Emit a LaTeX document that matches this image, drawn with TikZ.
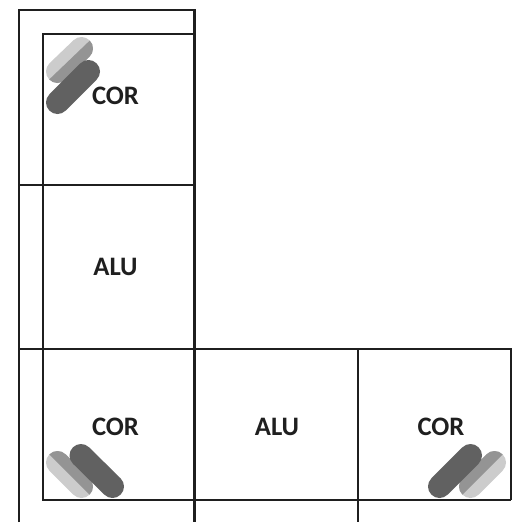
\documentclass[tikz,border=0pt]{standalone}
\usepackage{fontspec}
\setmainfont{Carlito}
\usetikzlibrary{calc}

% Pastilla de dos tonos: extremos #1 y #2, lado oscuro hacia #3
\newcommand{\splitpill}[3]{
	\coordinate (pill_a) at (#1);
	\coordinate (pill_b) at (#2);
	\draw [pill_light] (pill_a) -- (pill_b);
	\begin{scope}
		\clip ($(pill_a)!-1!(pill_b)$) -- ($(pill_a)!2!(pill_b)$) -- ++(#3) -- ($($(pill_a)!-1!(pill_b)$)+(#3)$) -- cycle;
		\draw [pill_mid] (pill_a) -- (pill_b);
	\end{scope}
}

\begin{document}
\begin{tikzpicture}[
		x=0.75pt, y=-0.75pt,
		% Estilos de la cuadricula y de las pastillas
		grid_line/.style = {draw=black!88, line width=1.85pt},
		cell_label/.style = {font=\fontsize{20}{23}\selectfont\bfseries, text=black!88, inner sep=0pt},
		pill_dark/.style = {draw=black!62, line width=17.25pt, line cap=round},
		pill_light/.style = {draw=black!20, line width=17.25pt, line cap=round},
		pill_mid/.style = {draw=black!42, line width=17.25pt, line cap=round}
		]
		
		\useasboundingbox (0,0) rectangle (525,522);
		
		% --- CUADRICULA ---
		\draw [grid_line] (19,522) -- (19,10) -- (194.5,10) -- (194.5,522);
		\draw [grid_line] (194.5,34) -- (43,34) -- (43,500) -- (511,500);
		\draw [grid_line] (18,185) -- (196,185);
		\draw [grid_line] (18,349) -- (511,349) -- (511,500);
		\draw [grid_line] (358,349) -- (358,522);
		
		% --- PASTILLAS ---
		% Arriba a la izquierda
		\splitpill{57.5,71.5}{81.5,48.5}{20,20}
		\draw [pill_dark] (57.5,102.5) -- (88.5,71.5);
		
		% Abajo a la izquierda
		\splitpill{57.5,462.5}{81.5,486.5}{20,-20}
		\draw [pill_dark] (81,455.5) -- (112.5,486.5);
		
		% Abajo a la derecha
		\splitpill{470.5,486.5}{494.5,462.5}{-20,-20}
		\draw [pill_dark] (439.5,486.5) -- (470.5,455.5);
		
		% --- ETIQUETAS ---
		\node [cell_label] (cor_top) at (115.5,96) {COR};
		\node [cell_label] (alu_left) at (115.5,267) {ALU};
		\node [cell_label] (cor_left) at (115.5,427) {COR};
		\node [cell_label] (alu_mid) at (277,427) {ALU};
		\node [cell_label] (cor_right) at (441,427) {COR};
		
	\end{tikzpicture}
\end{document}
